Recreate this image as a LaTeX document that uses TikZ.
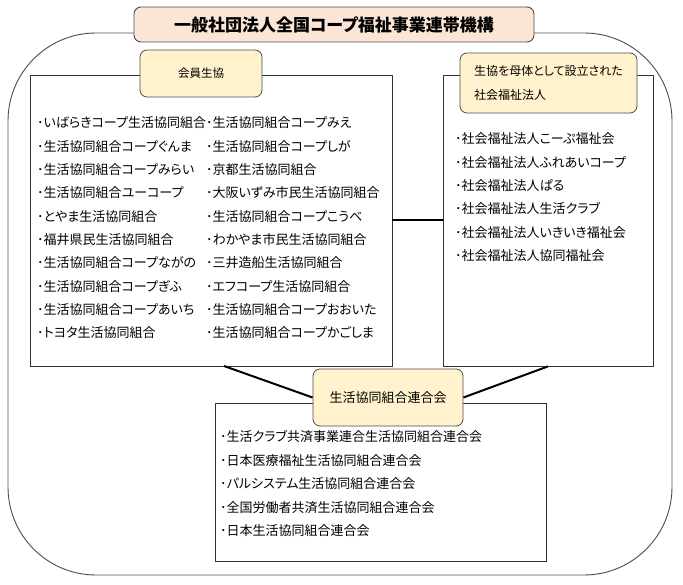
\documentclass[tikz,border=0pt]{standalone}
\usepackage{fontspec}
\newfontfamily\jp[RawFeature=+palt]{Noto Sans CJK JP}
\definecolor{titlefill}{HTML}{FBE5D6}
\definecolor{tagfill}{HTML}{FFF2CC}
\begin{document}
\begin{tikzpicture}[x=1pt, y=-1pt,
    frame/.style={draw=black!70, line width=0.9pt},
    panel/.style={draw=black!80, line width=0.8pt, fill=white},
    tag/.style={draw=black!70, line width=0.8pt, fill=tagfill, rounded corners=7pt, inner sep=0pt},
    item/.style={font=\jp\fontsize{13}{15}\selectfont, inner sep=0pt, anchor=west},
    link/.style={line width=2pt}]
    \useasboundingbox (0,0) rectangle (683,585);

    % 外枠と名称
    \node[frame, rounded corners=88pt, minimum width=664pt, minimum height=542pt] (outer) at (340,304) {};
    \node[frame, fill=titlefill, rounded corners=7pt, minimum width=400pt, minimum height=35pt,
          font=\jp\bfseries\fontsize{17}{20}\selectfont] (title) at (334,24.5) {一般社団法人全国コープ福祉事業連帯機構};

    % 三つの枠
    \node[panel, minimum width=362pt, minimum height=291pt] (member) at (211,220.5) {};
    \node[panel, minimum width=210pt, minimum height=291pt] (welfare) at (548,220.5) {};
    \node[panel, minimum width=331pt, minimum height=158pt] (union) at (380.5,482) {};

    % 結ぶ線
    \coordinate (memfoot) at (224,366);
    \node[tag, minimum width=150pt, minimum height=57pt, font=\jp\fontsize{13}{15}\selectfont] (uniontag) at (388,397.5) {生活協同組合連合会};
    \draw[link] (member.east) -- (welfare.west);
    \draw[link] (memfoot) -- (uniontag.west);
    \draw[link] (welfare.south) -- (uniontag.east);

    \node[tag, minimum width=122pt, minimum height=47pt, font=\jp\fontsize{11.5}{13}\selectfont] (membertag) at (201,73.5) {会員生協};
    \node[tag, minimum width=177pt, minimum height=60pt, align=left, font=\jp\fontsize{12}{24}\selectfont] (welfaretag) at (548.5,83) {生協を母体として設立された\\社会福祉法人};

    % 会員生協
    \foreach \t [count=\i] in {･いばらきコープ生活協同組合, ･生活協同組合コープぐんま, ･生活協同組合コープみらい,
        ･生活協同組合ユーコープ, ･とやま生活協同組合, ･福井県民生活協同組合, ･生活協同組合コープながの,
        ･生活協同組合コープぎふ, ･生活協同組合コープあいち, ･トヨタ生活協同組合}
        \node[item] (memA\i) at (37,{123+23.3*(\i-1)}) {\t};
    \foreach \t [count=\i] in {･生活協同組合コープみえ, ･生活協同組合コープしが, ･京都生活協同組合,
        ･大阪いずみ市民生活協同組合, ･生活協同組合コープこうべ, ･わかやま市民生活協同組合, ･三井造船生活協同組合,
        ･エフコープ生活協同組合, ･生活協同組合コープおおいた, ･生活協同組合コープかごしま}
        \node[item] (memB\i) at (206,{123+23.3*(\i-1)}) {\t};

    % 社会福祉法人
    \foreach \t [count=\i] in {･社会福祉法人こーぷ福祉会, ･社会福祉法人ふれあいコープ, ･社会福祉法人ぱる,
        ･社会福祉法人生活クラブ, ･社会福祉法人いきいき福祉会, ･社会福祉法人協同福祉会}
        \node[item] (wel\i) at (455,{139+23.3*(\i-1)}) {\t};

    % 連合会
    \foreach \t [count=\i] in {･生活クラブ共済事業連合生活協同組合連合会, ･日本医療福祉生活協同組合連合会,
        ･パルシステム生活協同組合連合会, ･全国労働者共済生活協同組合連合会, ･日本生活協同組合連合会}
        \node[item] (uni\i) at (220,{437+23.5*(\i-1)}) {\t};
\end{tikzpicture}
\end{document}
